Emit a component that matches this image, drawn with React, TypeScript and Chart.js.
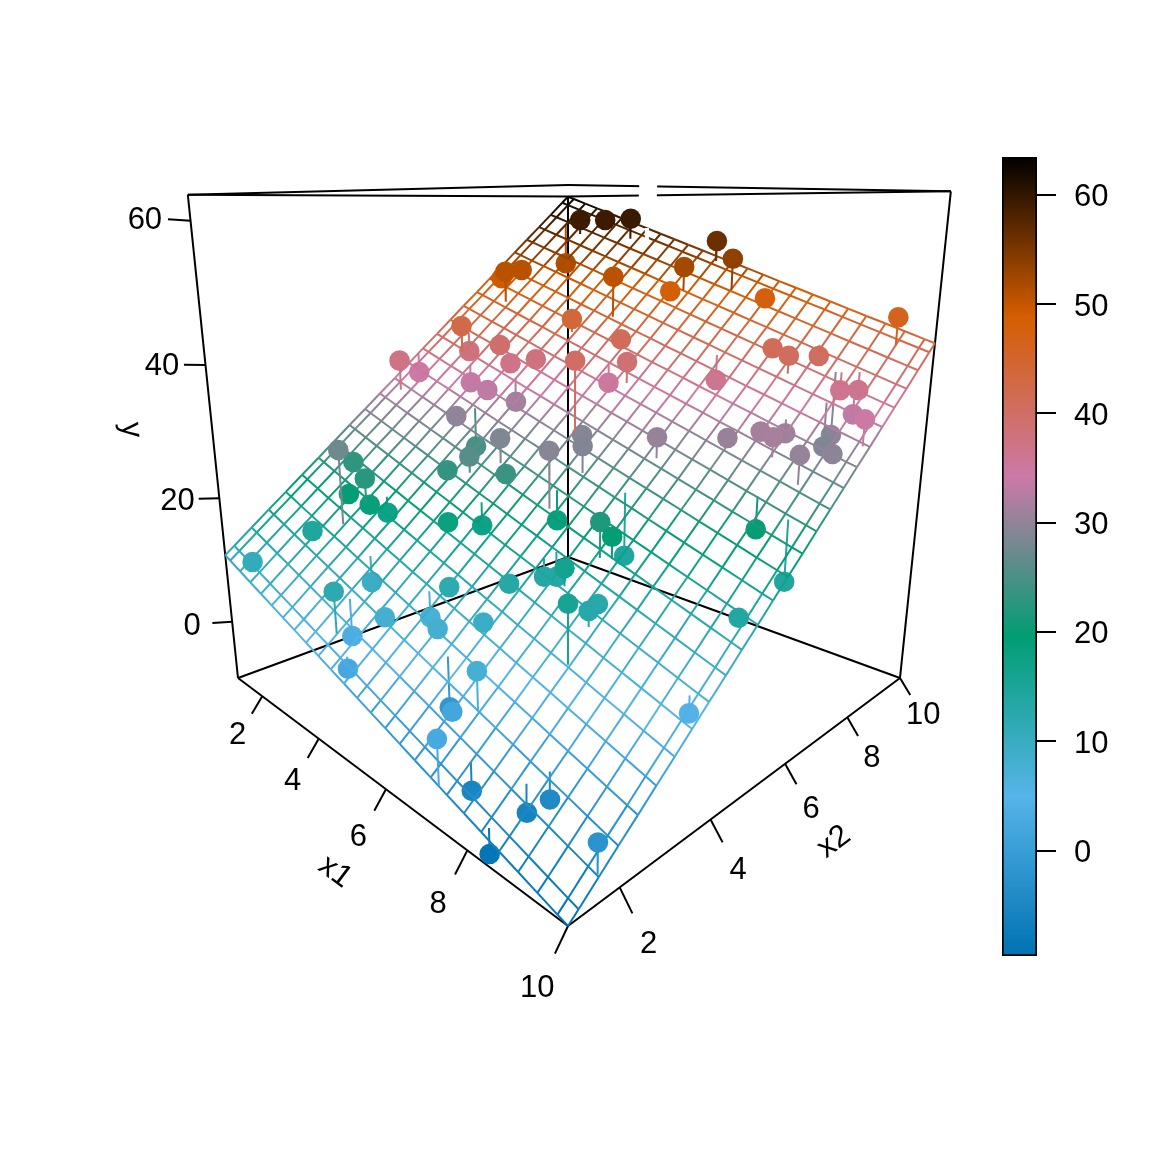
import { useEffect, useRef } from 'react'
import { Chart, registerables } from 'chart.js'

Chart.register(...registerables)

const x1Obs = [2.11,2.50,3.29,5.38,6.09,5.21,5.06,4.30,1.61,6.86,9.44,3.76,4.81,5.36,5.55,4.97,6.72,7.56,8.09,8.27,8.90,9.17,9.26,9.90,1.36,1.86,1.56,1.93,1.70,2.57,1.39,1.03,3.10,3.53,2.34,3.12,3.47,3.06,2.68,1.80,2.76,2.46,2.84,3.02,2.05,1.66,3.19,4.12,4.52,3.69,4.76,4.47,4.75,5.94,5.51,6.02,5.83,7.28,4.20,3.65,3.93,4.74,5.10,5.70,6.30,5.36,6.23,6.46,6.57,7.07,7.92,7.73,7.83,7.46,6.93,8.90,9.53,9.71,7.01,7.92,8.30,8.73,8.55,9.35,8.81,8.98,9.55,4.67,7.17,6.17,6.83,7.39,7.57,8.46,8.64,8.38,9.97,9.72]
const x2Obs = [9.30,9.69,9.64,9.90,9.47,9.08,8.85,8.00,9.35,9.48,9.70,7.38,7.68,5.85,7.03,7.16,8.21,8.75,8.45,9.16,8.87,9.00,8.71,7.90,7.63,7.30,8.04,6.03,6.40,6.50,4.85,5.58,6.31,6.60,5.90,5.68,6.11,4.94,2.56,3.39,3.02,2.85,3.04,3.30,2.28,1.25,5.30,4.38,4.78,4.20,4.69,3.58,4.12,4.64,5.88,5.37,4.93,4.48,1.40,2.48,1.85,2.00,2.66,2.36,2.82,2.88,3.44,4.01,4.19,3.88,3.11,3.96,3.65,4.57,5.47,6.46,6.39,4.89,6.18,6.95,7.37,7.09,7.74,6.91,8.83,8.29,7.58,1.29,1.96,2.19,1.74,1.03,1.48,1.75,2.03,1.12,1.60,3.75]
const yObs = [59.27,59.25,59.53,56.05,53.54,52.10,48.25,50.66,51.43,47.72,46.30,43.92,41.18,40.00,38.86,34.90,36.03,41.12,40.76,40.22,36.11,36.30,33.25,34.44,49.36,50.84,50.72,42.49,37.76,39.43,37.30,34.31,37.05,37.82,33.56,33.36,31.34,29.99,27.55,23.00,22.55,19.91,18.57,17.14,14.34,10.79,24.75,25.92,28.71,23.41,23.79,17.95,16.96,29.19,29.04,28.88,18.25,21.80,11.99,9.41,3.46,8.10,7.28,8.05,9.35,11.85,13.10,13.29,13.11,16.24,15.44,12.70,12.83,19.95,14.07,20.02,14.20,13.60,30.39,30.46,31.31,31.51,30.89,30.29,29.44,28.77,29.68,2.37,7.68,-1.37,1.79,2.61,-5.35,-5.73,-4.39,-8.81,-2.31,4.58]
const yFit = [56.81,58.20,56.11,52.82,48.68,48.41,47.44,44.22,58.29,46.95,42.31,41.80,41.18,29.21,35.62,37.75,39.87,41.12,38.13,41.85,38.71,38.89,36.97,30.77,48.83,45.71,50.72,38.13,40.86,39.43,32.45,37.55,37.05,37.82,36.40,33.36,35.10,29.19,16.15,23.00,18.62,18.33,18.57,19.68,15.94,10.79,30.95,23.45,24.89,23.41,23.79,17.95,20.48,20.78,29.04,24.89,22.75,16.77,5.84,13.43,9.09,8.10,11.14,8.05,9.35,11.85,13.10,15.90,16.73,13.72,7.31,12.70,10.64,16.88,23.38,24.64,22.77,13.60,27.33,29.74,31.31,28.71,32.90,26.20,38.71,35.11,29.68,4.13,2.27,5.96,1.79,-3.66,-1.42,-1.89,-0.70,-5.40,-6.25,6.92]

// fitted plane: mesh positions, its height along x1 (at the lowest x2) and its rise along x2
const x1Grid = [1.03,1.22,1.59,1.96,2.34,2.71,3.09,3.46,3.83,4.21,4.58,4.96,5.33,5.70,6.08,6.45,6.82,7.20,7.57,7.95,8.32,8.69,9.07,9.44,9.81,10]
const x2Grid = [1.03,1.22,1.59,1.96,2.34,2.71,3.09,3.46,3.83,4.21,4.58,4.96,5.33,5.70,6.08,6.45,6.82,7.20,7.57,7.95,8.32,8.69,9.07,9.44,9.81,10]
const planeAlongX1 = [10.96,10.53,9.67,8.81,7.95,7.09,6.23,5.37,4.52,3.66,2.80,1.94,1.08,0.22,-0.64,-1.49,-2.35,-3.21,-4.07,-4.93,-5.79,-6.65,-7.51,-8.37,-9.22,-9.65]
const planeRiseX2 = [0,1.09,3.28,5.46,7.65,9.83,12.02,14.20,16.39,18.57,20.76,22.94,25.13,27.31,29.50,31.68,33.87,36.05,38.24,40.42,42.61,44.79,46.98,49.16,51.35,52.45]

const x1Ticks = [2, 4, 6, 8, 10]
const x2Ticks = [2, 4, 6, 8, 10]
const yTicks = [0, 20, 40, 60]
const colorbarTicks = [0, 10, 20, 30, 40, 50, 60]
const rampColors = ['#0072B2', '#56B4E9', '#009E73', '#CC79A7', '#D55E00', '#000000']

const X_MIN = 1.03, X_MAX = 10, Y_MIN = -9.65, Y_MAX = 63.45
const FONT = '"Liberation Sans", Arial, sans-serif'

// perspective of the box, worked out from its corners. u, v, w run 0..1 along x1, x2, y
function projectUnit(u: number, v: number, w: number) {
  const d = 1 - 0.3461 * u + 0.3401 * v - 0.132 * w
  return {
    x: 568 + (330 * u + 330 * v - 330) / d,
    y: (-72.5 * u + 68.4 * v + 678 - 509 * w) / d,
    d,
  }
}
const toU = (x: number) => (x - X_MIN) / (X_MAX - X_MIN)
const toW = (y: number) => (y - Y_MIN) / (Y_MAX - Y_MIN)
const project = (x1: number, x2: number, y: number) => projectUnit(toU(x1), toU(x2), toW(y))

function rampColor(value: number) {
  const t = Math.min(0.9999, Math.max(0, toW(value))) * (rampColors.length - 1)
  const i = Math.floor(t)
  const hex = (c: string, k: number) => parseInt(c.slice(1 + k * 2, 3 + k * 2), 16)
  const mix = [0, 1, 2].map(k => Math.round(hex(rampColors[i], k) * (1 - t + i) + hex(rampColors[i + 1], k) * (t - i)))
  return `rgb(${mix[0]},${mix[1]},${mix[2]})`
}

function line(points: { x: number; y: number }[], color: string, width: number, order: number, extra = {}) {
  return { data: points, showLine: true, borderColor: color, borderWidth: width, pointRadius: 0, order, ...extra }
}

function buildDatasets() {
  const sets: any[] = []
  const c = (u: number, v: number, w: number) => projectUnit(u, v, w)

  // box
  const edges = [
    [[0,0,0],[1,0,0]], [[1,0,0],[1,1,0]], [[0,0,0],[0,1,0]], [[0,1,0],[1,1,0]],
    [[0,0,0],[0,0,1]], [[0,1,0],[0,1,1]], [[1,1,0],[1,1,1]],
    [[0,0,1],[0,1,1]], [[0,1,1],[1,1,1]], [[0,0,1],[1,0,1]], [[1,0,1],[1,1,1]],
  ]
  edges.forEach(([a, b]) => sets.push(line([c(a[0], a[1], a[2]), c(b[0], b[1], b[2])], '#000', 2, 60)))

  // the white break across the top edges and the back of the mesh
  sets.push(line([project(3.45, 10, Y_MAX), project(10, 2.27, Y_MAX)], '#fff', 18, 55, { borderCapStyle: 'square' }))
  sets.push(line([project(3.44, 10, 57.9), project(3.68, 9.73, 55.7)], '#fff', 4, 25))

  // ticks
  x1Ticks.forEach(t => sets.push(line([c(toU(t), 0, 0), c(toU(t), -0.0257, -0.03)], '#000', 2, 60)))
  x2Ticks.forEach(t => sets.push(line([c(1, toU(t), 0), c(1.0257, toU(t), -0.03)], '#000', 2, 60)))
  yTicks.forEach(t => sets.push(line([c(0, 0, toW(t)), c(-0.017, -0.035, toW(t) + 0.003)], '#000', 2, 60)))

  // mesh, each piece coloured by the height of the plane there
  const meshLine = (pts: { x: number; y: number }[], heights: number[]) => line(pts, '#888', 2, 30, {
    segment: { borderColor: (ctx: any) => rampColor((heights[ctx.p0DataIndex] + heights[ctx.p1DataIndex]) / 2) },
  })
  x1Grid.forEach((g, i) => {
    const h = planeRiseX2.map(r => planeAlongX1[i] + r)
    sets.push(meshLine(x2Grid.map((x2, j) => project(g, x2, h[j])), h))
  })
  x2Grid.forEach((g, j) => {
    const h = planeAlongX1.map(a => a + planeRiseX2[j])
    sets.push(meshLine(x1Grid.map((x1, i) => project(x1, g, h[i])), h))
  })

  // observations with their residual lines; those under the plane sit below the mesh, near ones on top
  x1Obs.forEach((x1, i) => {
    const p = project(x1, x2Obs[i], yObs[i])
    const color = rampColor(yObs[i])
    sets.push(line([p, project(x1, x2Obs[i], yFit[i])], color, 2, (yObs[i] < yFit[i] ? 40 : 10) + p.d, {
      pointRadius: [10.3, 0],
      pointBackgroundColor: color,
      pointBorderWidth: 0,
    }))
  })
  return sets
}

const axisText = {
  id: 'axisText',
  afterDraw(chart: Chart) {
    const ctx = chart.ctx
    ctx.save()
    ctx.fillStyle = '#000'
    ctx.font = `31px ${FONT}`
    ctx.textAlign = 'center'
    ctx.textBaseline = 'middle'
    const put = (s: string, x: number, y: number, deg = 0) => {
      ctx.save()
      ctx.translate(x, y)
      ctx.rotate((deg * Math.PI) / 180)
      ctx.fillText(s, 0, 0)
      ctx.restore()
    }
    x1Ticks.forEach(t => { const p = projectUnit(toU(t), -0.06, -0.065); put(String(t), p.x, p.y) })
    x2Ticks.forEach(t => { const p = projectUnit(1.058, toU(t), -0.065); put(String(t), p.x, p.y) })
    yTicks.forEach(t => { const p = projectUnit(-0.0345, -0.0705, toW(t) + 0.003); put(String(t), p.x, p.y + 1) })
    put('x1', 335, 872, 37)
    put('x2', 834, 842, -37)
    put('y', 131, 430, 85)
    ctx.restore()
  },
}

export default function App() {
  const plotRef = useRef<HTMLCanvasElement>(null)
  const barRef = useRef<HTMLCanvasElement>(null)

  useEffect(() => {
    if (!plotRef.current || !barRef.current) return
    const plot = new Chart(plotRef.current, {
      type: 'scatter',
      data: { datasets: buildDatasets() },
      options: {
        responsive: false,
        animation: false,
        events: [],
        layout: { padding: 0, autoPadding: false },
        plugins: { legend: { display: false }, tooltip: { enabled: false } },
        scales: {
          x: { type: 'linear', min: 0, max: 1152, display: false },
          y: { type: 'linear', min: 0, max: 1152, reverse: true, display: false },
        },
      },
      plugins: [axisText],
    })
    const bar = new Chart(barRef.current, {
      type: 'bar',
      data: {
        labels: [''],
        datasets: [{
          data: [[Y_MIN, Y_MAX]],
          backgroundColor: (ctx: any) => {
            const area = ctx.chart.chartArea
            if (!area) return '#000'
            const grad = ctx.chart.ctx.createLinearGradient(0, area.bottom, 0, area.top)
            rampColors.forEach((col, i) => grad.addColorStop(i / (rampColors.length - 1), col))
            return grad
          },
          borderColor: '#000',
          borderWidth: 2,
          borderSkipped: false,
          barPercentage: 1,
          categoryPercentage: 1,
        }],
      },
      options: {
        responsive: false,
        animation: false,
        events: [],
        layout: { padding: { left: 10, top: 10, bottom: 10, right: 0 }, autoPadding: false },
        plugins: { legend: { display: false }, tooltip: { enabled: false } },
        scales: {
          x: { display: false },
          y: {
            position: 'right',
            min: Y_MIN,
            max: Y_MAX,
            afterBuildTicks: (s: any) => { s.ticks = colorbarTicks.map(value => ({ value })) },
            afterFit: (s: any) => { s.width = 115; s.paddingTop = 0; s.paddingBottom = 0 },
            border: { display: false },
            grid: { drawOnChartArea: false, drawTicks: true, tickLength: 19, color: '#000', lineWidth: 2 },
            ticks: { color: '#000', padding: 18, labelOffset: 3, font: { family: FONT, size: 31 } },
          },
        },
      },
    })
    return () => { plot.destroy(); bar.destroy() }
  }, [])

  return (
    <div>
      <canvas ref={plotRef} width={1152} height={1152} style={{ position: 'absolute', left: 0, top: 0 }} />
      <canvas ref={barRef} width={160} height={819} style={{ position: 'absolute', left: 992, top: 147 }} />
    </div>
  )
}
